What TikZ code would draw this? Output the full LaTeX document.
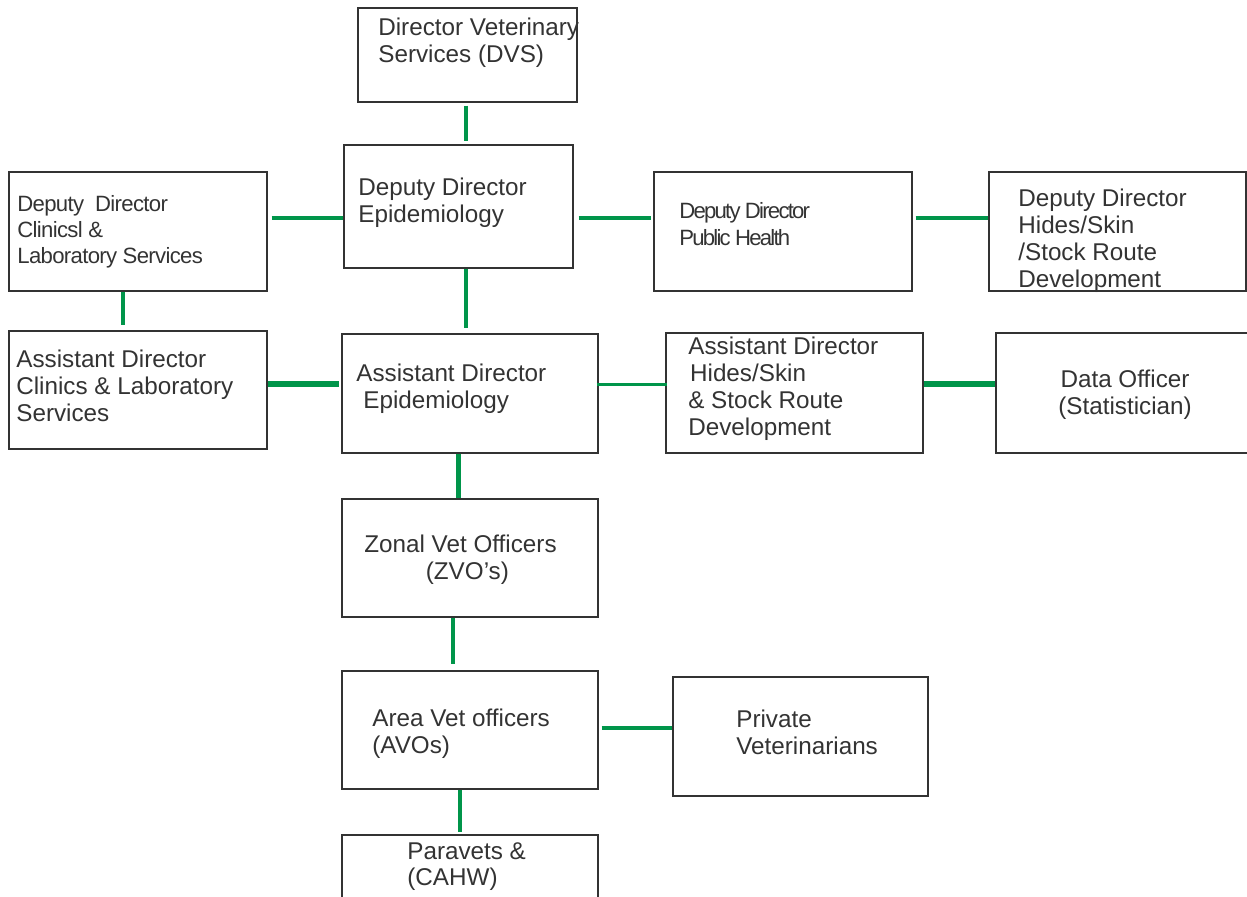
\documentclass[tikz,border=0pt]{standalone}
\usepackage{fontspec}
\setmainfont{Liberation Sans}
\newfontfamily\tightfont[LetterSpace=-3]{Liberation Sans}
\newfontfamily\tighterfont[LetterSpace=-8]{Liberation Sans}
\usepackage{tikz}
\usetikzlibrary{fit}
\definecolor{orgGreen}{HTML}{00954A}
\definecolor{boxLine}{HTML}{333333}
\definecolor{ink}{HTML}{333333}
\tikzset{
  orgbox/.style={rectangle, draw=boxLine, line width=0.8pt, inner sep=0pt},
  boxtext/.style={anchor=north west, inner sep=0pt, align=left, text=ink,
                  font=\fontsize{13.8}{15.2}\selectfont},
  tighttext/.style={boxtext, font=\tightfont\fontsize{12.6}{14.8}\selectfont},
  tightertext/.style={boxtext, font=\tighterfont\fontsize{12.6}{15.7}\selectfont},
  link/.style={draw=orgGreen, line width=2.3pt},
  thicklink/.style={link, line width=3.4pt},
  thinlink/.style={link, line width=1.7pt}
}

\begin{document}
\begin{tikzpicture}[x=0.02cm, y=-0.02cm]
\useasboundingbox (0,0) rectangle (1247,896);

\node[orgbox, fit={(358,8) (577,102)}] (dvs) {};
\node[orgbox, fit={(344,145) (573,268)}] (dde) {};
\node[orgbox, fit={(9,172) (267,291)}] (ddc) {};
\node[orgbox, fit={(654,172) (912,291)}] (ddph) {};
\node[orgbox, fit={(989,172) (1246,291)}] (ddh) {};
\node[orgbox, fit={(9,331) (267,449)}] (adc) {};
\node[orgbox, fit={(342,334) (598,453)}] (ade) {};
\node[orgbox, fit={(666,333) (923,453)}] (adh) {};
\node[orgbox, fit={(996,333) (1250,453)}] (data) {};
\node[orgbox, fit={(342,499) (598,617)}] (zvo) {};
\node[orgbox, fit={(342,671) (598,789)}] (avo) {};
\node[orgbox, fit={(673,677) (928,796)}] (pv) {};
\node[orgbox, fit={(342,835) (598,920)}] (para) {};

\node[boxtext] (dvsT) at (378,18) {Director Veterinary\\Services (DVS)};
\node[boxtext] (ddeT) at (358,178) {Deputy Director\\Epidemiology};
\node[tighttext] (ddcT) at (17,195) {Deputy\ \ Director\\Clinicsl \&\\Laboratory Services};
\node[tightertext] (ddphT) at (679,202) {Deputy Director\\Public Health};
\node[boxtext] (ddhT) at (1018,189) {Deputy Director\\Hides/Skin\\/Stock Route\\Development};
\node[boxtext] (adcT) at (16,350) {Assistant Director\\Clinics \& Laboratory\\Services};
\node[boxtext] (adeT) at (356,364) {Assistant Director\\\hspace*{4pt}Epidemiology};
\node[boxtext] (adhT) at (688,337) {Assistant Director\\\hspace*{1pt}Hides/Skin\\\& Stock Route\\Development};
\node[boxtext, anchor=north, align=center] (dataT) at (1125,370) {Data Officer\\(Statistician)};
\node[boxtext] (zvoT) at (364,535) {Zonal Vet Officers\\\hspace*{35pt}(ZVO’s)};
\node[boxtext] (avoT) at (372,709) {Area Vet officers\\(AVOs)};
\node[boxtext] (pvT) at (736,710) {Private\\Veterinarians};
\node[boxtext] (paraT) at (407,842) {Paravets \&\\(CAHW)};

\coordinate (row1) at (0,218);
\coordinate (row2) at (0,384);
\coordinate (row3) at (0,728);
\coordinate (col1) at (466,0);
\coordinate (col2) at (123,0);
\coordinate (col3) at (458.5,0);
\coordinate (col4) at (453,0);
\coordinate (col5) at (460,0);

\draw[link, shorten <=1.7pt, shorten >=1.7pt] (dvs.south -| col1) -- (dde.north -| col1);
\draw[link, shorten <=2.3pt] (ddc.east |- row1) -- (dde.west |- row1);
\draw[link, shorten <=2.8pt, shorten >=1.1pt] (dde.east |- row1) -- (ddph.west |- row1);
\draw[link, shorten <=1.7pt] (ddph.east |- row1) -- (ddh.west |- row1);
\draw[link, shorten >=2.8pt] (ddc.south -| col2) -- (adc.north -| col2);
\draw[link, shorten >=2.8pt] (dde.south -| col1) -- (ade.north -| col1);
\draw[thicklink, shorten >=1.1pt] (adc.east |- row2) -- (ade.west |- row2);
\draw[thinlink, shorten <=-1.1pt, shorten >=-1.1pt] (ade.east |- row2) -- (adh.west |- row2);
\draw[thicklink] (adh.east |- row2) -- (data.west |- row2);
\draw[link] (ade.south -| col3) -- (zvo.north -| col3);
\draw[link, shorten >=3.4pt] (zvo.south -| col4) -- (avo.north -| col4);
\draw[link, shorten <=1.7pt] (avo.east |- row3) -- (pv.west |- row3);
\draw[link, shorten >=1.1pt] (avo.south -| col5) -- (para.north -| col5);
\end{tikzpicture}
\end{document}
